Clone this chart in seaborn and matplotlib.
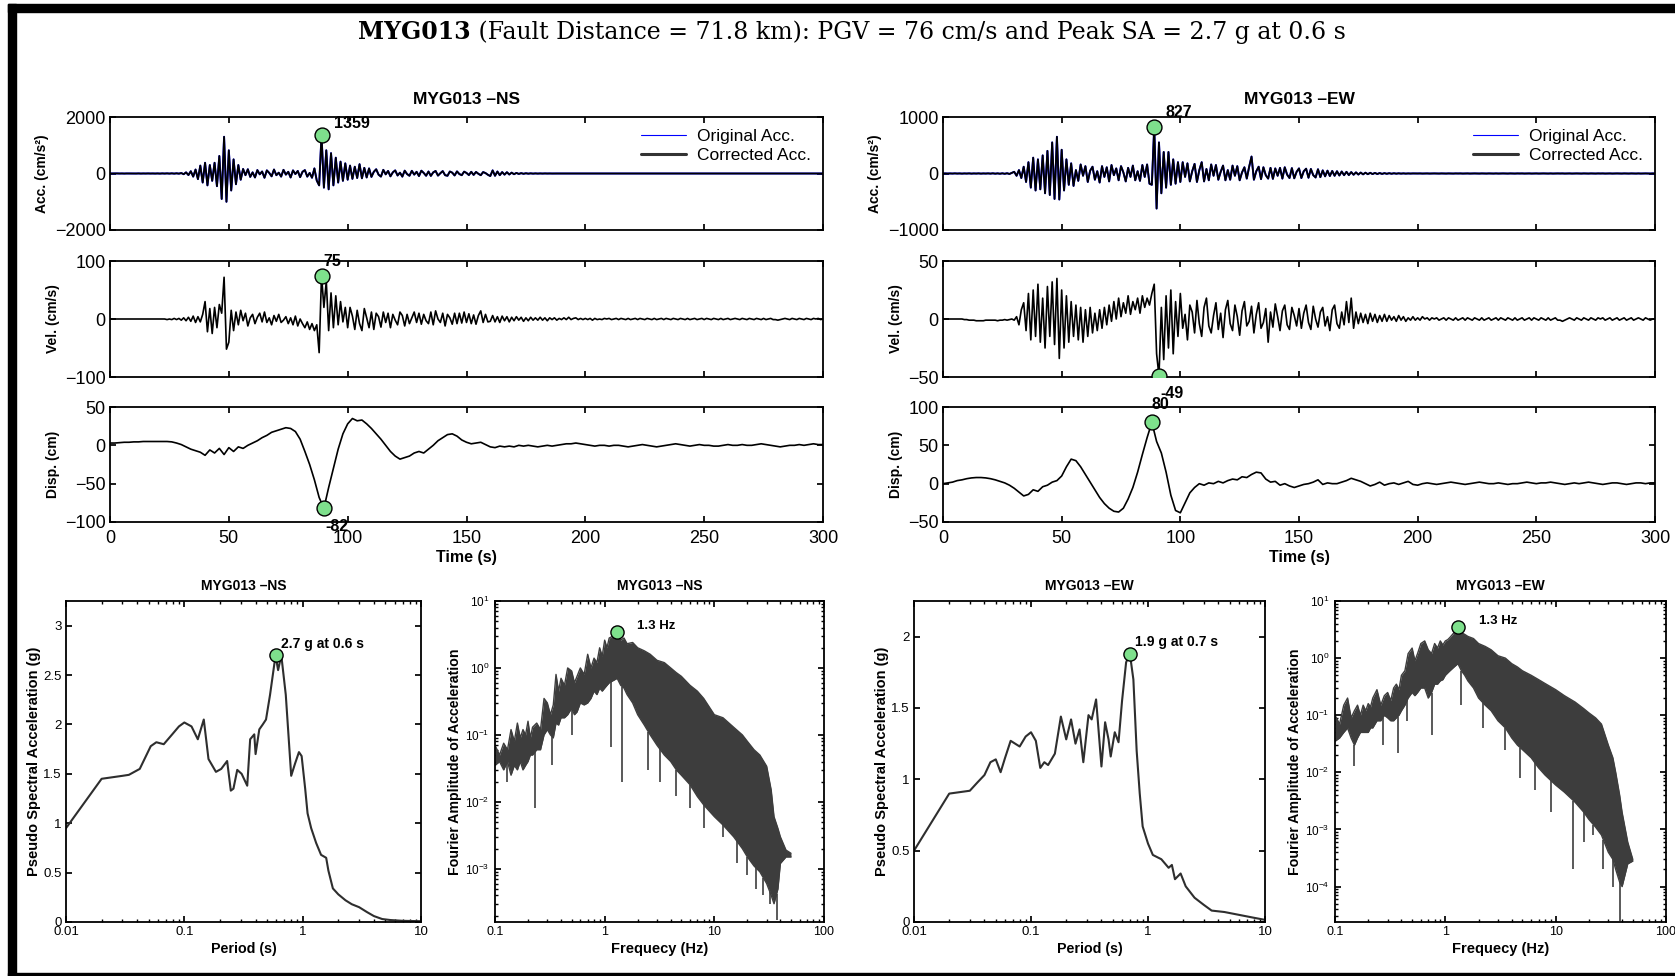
"""
plot.py - MYG013 strong-motion summary sheet (time histories, PSA, FAS).
"""

import numpy as np
import matplotlib
matplotlib.use("Agg")
import matplotlib.pyplot as plt
from matplotlib.patches import Rectangle
from matplotlib.lines import Line2D
import seaborn as sns

# ---------------------------------------------------------------------
#  Data
# ---------------------------------------------------------------------
DT = 1.0        # s, sample step of the acc / vel traces
DT_DISP = 2.0   # s, sample step of the disp traces

acc_ns = [
    0, 1, -1, 2, -1, 1, -2, 1, 0, -1,
    1, -1, 2, -2, 1, -1, 2, -1, 1, -2,
    2, -3, 3, -2, 4, -3, 5, -4, 6, -5,
    15, -25, 40, -55, 80, -110, 140, -200, 280, -320,
    380, -420, 300, -260, 380, -450, 620, -900, 1300, -1000,
    820, -600, 500, -380, 300, -220, 160, -60, 150, -120,
    40, -140, 120, -30, 70, -150, 110, 20, -100, 140,
    -60, 30, -110, 130, -40, 60, -140, 110, -20, 90,
    -130, 60, 120, -110, 20, -150, 180, -250, -420, 1359,
    -500, 820, -560, 720, -420, 560, -320, 420, -260, 360,
    -220, 280, -190, 240, -160, 330, -170, 200, -140, 180,
    -120, 60, 150, -40, -110, 130, -30, 90, -100, 40,
    110, -70, 30, -110, 100, -20, -80, 95, -40, 60,
    -90, 100, 20, -80, 70, -85, 40, 90, -75, 10,
    85, -60, -80, 70, 30, -70, 75, -20, -60, 65,
    20, -55, 60, -50, 55, -10, -60, 50, 15, -45,
    -90, 110, -80, 70, -60, 50, -40, 45, -35, 30,
    -25, 20, -15, 12, -10, 8, -6, 5, -4, 3,
    -3, 2, -2, 2, -1, 1, -1, 1, 0, 0,
    1, -1, 0, 1, -1, 0, 1, 0, -1, 1,
    0, -1, 1, 0, -1, 1, 0, 1, -1, 0,
    1, -1, 0, 1, 0, -1, 1, 0, -1, 1,
    0, 1, -1, 0, 1, -1, 0, 1, 0, -1,
    1, 0, -1, 1, 0, -1, 1, 0, 1, -1,
    0, 1, -1, 0, 1, 0, -1, 1, 0, -1,
    1, 0, -1, 1, -1, 0, 1, 0, -1, 1,
    0, -1, 1, 0, 1, -1, 0, 1, -1, 0,
    1, -1, 0, 1, 0, -1, 1, -1, 0, 1,
    0, 1, -1, 0, 1, -1, 0, 1, 0, -1,
    1, 0, 0, 1, -1, 0, 1, 0, -1, 1,
    0,
]

vel_ns = [
    0, 0, 0, 0, 0, 0, 0, 0, 0, 0,
    0, 0, 0, 0, 0, 0, 0, 0, 0, 0,
    0, 0, 0, 0, -1, 0, -1, 1, -1, 1,
    -2, 2, -3, 3, -4, 5, -6, 4, -5, 8,
    30, -22, 18, -25, 20, -15, 25, 10, 72, -52,
    -40, 15, -20, 12, -10, 15, -3, 10, -12, 2,
    8, -8, 3, 10, -5, 12, -6, 2, -10, 6,
    -4, 8, -6, -2, 4, -8, 2, -10, 5, -12,
    0, -8, -15, -5, -18, -8, -20, -10, -58, 75,
    20, 65, -20, 45, -15, 40, -10, 30, -5, 20,
    -15, 20, 5, -18, 15, -8, -20, 18, 2, -15,
    12, -18, 10, 4, -14, 12, -6, 10, -15, 8,
    -2, -10, 12, 6, -12, 8, -8, 2, 12, -6,
    10, -9, 8, -3, -8, 12, -10, 14, 0, -6,
    10, -12, 8, 2, -9, 10, -8, 10, -7, 12,
    -6, 9, -8, 7, -9, 6, 14, -6, 8, -5,
    -4, 6, -5, 4, -6, 5, -3, 4, -5, 3,
    -3, 4, -2, 3, -4, 2, -3, 3, -2, 2,
    -2, 3, -2, 2, -3, 2, -1, 2, -2, 1,
    -1, 2, -1, 3, -1, 1, 2, -1, 1, -1,
    1, -1, 1, -2, 1, -1, 0, -1, 1, 0,
    1, -1, 0, 1, -1, 1, 0, -1, 1, -1,
    0, 1, -1, 1, 0, -1, 1, 0, -1, 1,
    -1, 0, 1, -1, 1, 0, -1, 1, 0, -1,
    1, 0, -1, 1, -1, 0, 1, -1, 0, 1,
    -1, 1, 0, -1, 1, 0, -1, 1, -1, 0,
    1, -1, 0, 1, 0, -1, 1, 0, -1, 1,
    0, -1, 1, 0, -1, 1, -1, 0, 1, -1,
    -1, -2, -1, 0, 1, 0, -1, 1, 0, -1,
    1, 0, -1, 1, 0, -1, 1, 0, 1, -1,
    0,
]

disp_ns = [
    3, 3, 3.5, 4, 4, 4.5, 4.5, 5, 5, 5,
    5, 5, 5, 4.5, 3, 1, -2, -5, -7, -9,
    -13, -6, -10, -4, -12, -3, -8, -2, -4, 0,
    3, 6, 10, 13, 17, 19, 21, 23, 22, 18,
    8, -8, -25, -45, -68, -82, -55, -30, -5, 15,
    28, 35, 32, 33, 28, 22, 15, 8, 0, -8,
    -14, -18, -16, -14, -10, -8, -10, -5, 0, 6,
    10, 14, 15, 12, 7, 4, 2, 3, 4, 1,
    -2, -3, -1, -2, -1, -2, 0, -1, 0, -1,
    -2, -1, 0, -1, 0, 1, 2, 2, 3, 2,
    1, 0, -1, 0, 0, -1, 0, 0, -1, -2,
    -1, 0, 1, 0, -1, -2, -1, 0, 1, 2,
    1, 0, -1, 0, 1, 0, 0, -1, -1, 0,
    1, 0, 0, 1, 0, 0, 1, 2, 1, 0,
    -1, -2, -1, 0, 0, 1, 0, 1, 2, 1,
    1,
]

acc_ew = [
    0, 1, -1, 1, -1, 2, -1, 1, -2, 1,
    -1, 2, -2, 1, -1, 2, -2, 1, -1, 2,
    -2, 3, -3, 2, -4, 3, -5, 4, -8, 10,
    30, -40, 60, -80, 120, -150, 200, -250, 280, -300,
    250, -280, 320, -350, 400, -380, 550, -450, 650, -460,
    420, -300, 250, -200, 180, -220, 60, -130, 160, -40,
    130, -150, 50, 120, -110, 40, -160, 130, -60, 110,
    -140, 150, -30, 90, -120, 130, 20, -140, 100, -60,
    140, -120, 40, -130, 150, -60, 160, -180, -200, 827,
    -620, 550, -350, 380, -250, 380, -200, 250, -180, 200,
    -150, 200, -60, 180, -140, 40, 170, -150, 60, 200,
    -140, 80, -120, 160, -40, 150, -110, 30, 140, -120,
    60, -110, 140, -40, 130, -120, 20, 110, -90, 120,
    300, -110, 40, 120, -100, 110, -30, -90, 100, -95,
    90, -40, 100, -90, 110, -20, -80, 95, -85, 30,
    90, -80, 40, 85, -75, 80, -30, -70, 75, -65,
    55, -50, 50, -45, 45, -40, 40, -35, 35, -30,
    30, -28, 25, -22, 20, -18, 16, -15, 14, -12,
    12, -10, 10, -9, 8, -7, 6, -5, 5, -4,
    4, -3, 3, -2, 2, -2, 1, -1, 1, 0,
    0, 1, -1, 0, 1, -1, 0, 1, 0, -1,
    1, 0, -1, 1, 0, -1, 1, 0, 1, -1,
    0, 1, -1, 0, 1, 0, -1, 1, 0, -1,
    1, 0, -1, 1, -1, 0, 1, 0, -1, 1,
    0, -1, 1, 0, 1, -1, 0, 1, -1, 0,
    1, -1, 0, 1, 0, -1, 1, -1, 0, 1,
    0, 1, -1, 0, 1, -1, 0, 1, 0, -1,
    1, 0, -1, 1, 0, -1, 1, 0, 1, -1,
    0, 1, -1, 0, 1, 0, -1, 1, 0, -1,
    1, 0, -1, 1, -1, 0, 1, 0, -1, 1,
    0,
]

vel_ew = [
    0, 0, 0, 0, 0, 0, 0, 0, 0, -0.5,
    -0.5, -1, -1, -1, -1.5, -1.5, -1.5, -1.5, -1, -1,
    -1, -1, -1, -1.5, -1, -1, -0.5, -1, -0.5, 0,
    -1, 2, -5, 8, 14, -10, 22, -18, 25, -15,
    30, -20, 18, -25, 28, -15, 32, -22, 35, -34,
    25, -25, 20, -20, 15, -15, 12, -18, 10, -20,
    8, -15, 10, -12, 5, -10, 8, -8, 10, -5,
    12, -2, 15, 0, 18, 2, 14, 5, 20, 4,
    15, 8, 18, 5, 20, 10, 18, 12, 22, 30,
    -30, -49, 10, -35, 20, -25, 25, -30, 15, -15,
    22, -8, 4, -18, 12, 6, -12, 16, -4, -15,
    10, 18, -6, -12, 3, 14, -9, 5, -16, 8,
    16, -4, -10, 12, 2, -14, 7, 15, -6, -2,
    11, -12, 4, 14, -8, -3, 9, -20, 6, -7,
    13, 2, -10, 7, 12, -5, -9, 10, 3, -6,
    9, -8, 5, 12, -3, -9, 11, 0, -7, 6,
    10, -6, 2, -10, 8, 12, -4, -8, 6, -5,
    15, -3, 18, -8, 6, -4, 5, -3, 4, -4,
    5, -2, 4, -3, 3, -2, 4, -2, 3, -1,
    2, -2, 3, -1, 2, -2, 1, -1, 2, -1,
    1, -1, 2, 0, 1, -1, 1, 0, 1, -1,
    0, 1, -1, 1, 0, -1, 1, -1, 0, 1,
    -1, 1, 0, -1, 1, 0, -1, 1, -1, 0,
    1, -1, 0, 1, -1, 1, 0, -1, 1, 0,
    -1, 1, -1, 0, 1, -1, 0, 1, -1, 1,
    0, -1, 1, 0, -1, 1, -1, 0, 1, -1,
    -1, -2, -1, 0, 1, 0, -1, 1, 0, -1,
    1, 0, -1, 1, 0, -1, 1, 0, 1, -1,
    0, 1, -1, 0, 1, -1, 0, 1, -1, 0,
    1, -1, 0, 1, 0, -1, 1, 0, -1, 0,
    0,
]

disp_ew = [
    0, 1, 2, 4, 5, 6.5, 7.5, 8, 8, 7.5,
    6.5, 5, 3, 1, -2, -6, -11, -16, -14, -8,
    -10, -4, -2, 2, 4, 10, 22, 32, 30, 22,
    12, 2, -8, -18, -26, -32, -36, -37, -32, -20,
    -5, 15, 38, 60, 80, 55, 40, 15, -15, -35,
    -38, -25, -12, -5, 0, -2, 1, 0, 3, 1,
    4, 6, 5, 9, 8, 12, 15, 14, 6, 2,
    3, -2, 0, -3, -5, -3, -1, 0, 2, 5,
    -1, 1, 0, 0, 2, 4, 7, 5, 3, 0,
    -3, -1, 2, -2, 0, 1, -1, 1, 3, -1,
    -2, 0, 1, 0, -1, 0, 1, 2, 1, 0,
    -1, 0, 1, 2, 1, 0, 0, 1, 0, -1,
    0, 0, 1, 2, 1, 0, 1, 1, 2, 1,
    0, -1, 0, 1, 0, 1, 2, 1, 0, -1,
    0, 1, 1, 0, -1, 0, 1, 1, 0, 1,
    1,
]

# pseudo spectral acceleration (g) vs period (s)
sa_ns_period = [0.01, 0.02, 0.03, 0.034, 0.042, 0.052, 0.058, 0.067, 0.079, 0.09,
                0.1, 0.115, 0.13, 0.146, 0.16, 0.185, 0.205, 0.23, 0.247, 0.26,
                0.28, 0.305, 0.34, 0.36, 0.39, 0.40, 0.43, 0.46, 0.49, 0.53,
                0.59, 0.62, 0.66, 0.72, 0.8, 0.86, 0.93, 0.98, 1.05, 1.1,
                1.18, 1.3, 1.43, 1.58, 1.65, 1.8, 2.0, 2.3, 2.6, 3.0,
                3.5, 4.0, 4.7, 5.5, 7.0, 10.0]
sa_ns_value = [0.95, 1.45, 1.48, 1.49, 1.55, 1.78, 1.82, 1.80, 1.90, 1.98,
               2.02, 1.98, 1.85, 2.05, 1.65, 1.52, 1.55, 1.63, 1.33, 1.35,
               1.54, 1.50, 1.38, 1.85, 1.90, 1.70, 1.95, 2.00, 2.05, 2.30,
               2.70, 2.55, 2.70, 2.30, 1.48, 1.60, 1.72, 1.68, 1.35, 1.10,
               0.95, 0.80, 0.68, 0.65, 0.52, 0.34, 0.28, 0.22, 0.18, 0.15,
               0.10, 0.06, 0.03, 0.02, 0.012, 0.008]

sa_ew_period = [0.01, 0.02, 0.03, 0.035, 0.04, 0.045, 0.05, 0.055, 0.06, 0.067,
                0.08, 0.09, 0.1, 0.11, 0.12, 0.13, 0.14, 0.16, 0.18, 0.2,
                0.22, 0.24, 0.26, 0.28, 0.31, 0.33, 0.36, 0.38, 0.40, 0.43,
                0.46, 0.48, 0.52, 0.56, 0.6, 0.65, 0.7, 0.75, 0.8, 0.85,
                0.9, 1.0, 1.1, 1.3, 1.5, 1.6, 1.7, 1.9, 2.1, 2.5,
                3.0, 3.5, 4.5, 6.0, 8.0, 10.0]
sa_ew_value = [0.50, 0.90, 0.92, 0.98, 1.03, 1.12, 1.14, 1.05, 1.15, 1.27,
               1.23, 1.30, 1.33, 1.27, 1.08, 1.12, 1.10, 1.18, 1.44, 1.28,
               1.42, 1.25, 1.35, 1.12, 1.45, 1.42, 1.56, 1.32, 1.09, 1.40,
               1.28, 1.16, 1.33, 1.26, 1.55, 1.82, 1.88, 1.70, 1.20, 0.90,
               0.67, 0.55, 0.47, 0.44, 0.38, 0.40, 0.30, 0.34, 0.25, 0.17,
               0.12, 0.08, 0.07, 0.05, 0.03, 0.015]

# Fourier amplitude of acceleration: band envelope and isolated dips
fas_freq = [0.10, 0.11, 0.12, 0.13, 0.14, 0.15, 0.16, 0.17, 0.18, 0.19,
            0.20, 0.21, 0.22, 0.24, 0.26, 0.28, 0.30, 0.32, 0.34, 0.36,
            0.38, 0.40, 0.43, 0.46, 0.50, 0.53, 0.56, 0.60, 0.65, 0.70,
            0.75, 0.80, 0.85, 0.90, 0.95, 1.00, 1.05, 1.10, 1.20, 1.30,
            1.40, 1.50, 1.60, 1.80, 2.00, 2.30, 2.60, 3.00, 3.50, 4.00,
            4.50, 5.00, 6.00, 7.00, 8.00, 10.0, 12.0, 15.0, 18.0, 20.0,
            23.0, 26.0, 30.0, 33.0, 35.0, 38.0, 40.0, 45.0, 50.0]
fas_ns_upper = [0.07, 0.05, 0.075, 0.06, 0.12, 0.08, 0.15, 0.09, 0.12, 0.10,
                0.16, 0.09, 0.13, 0.15, 0.12, 0.35, 0.30, 0.20, 0.28, 0.80,
                0.45, 0.70, 0.55, 1.00, 0.90, 0.60, 0.75, 1.00, 0.80, 1.60,
                1.00, 1.40, 1.20, 2.00, 1.50, 2.60, 2.00, 2.80, 3.00, 3.50,
                2.60, 2.80, 2.30, 2.40, 2.00, 1.80, 1.60, 1.30, 1.20, 1.00,
                0.85, 0.75, 0.55, 0.45, 0.35, 0.20, 0.18, 0.13, 0.10, 0.08,
                0.06, 0.05, 0.034, 0.015, 0.006, 0.004, 0.003, 0.0019, 0.0017]
fas_ns_lower = [0.035, 0.04, 0.03, 0.04, 0.025, 0.035, 0.03, 0.04, 0.03, 0.035,
                0.04, 0.05, 0.05, 0.06, 0.06, 0.10, 0.12, 0.10, 0.09, 0.15,
                0.14, 0.18, 0.18, 0.20, 0.25, 0.20, 0.22, 0.30, 0.28, 0.30,
                0.35, 0.45, 0.40, 0.50, 0.45, 0.50, 0.55, 0.60, 0.65, 0.70,
                0.55, 0.50, 0.40, 0.30, 0.20, 0.14, 0.10, 0.07, 0.05, 0.04,
                0.03, 0.025, 0.018, 0.012, 0.009, 0.006, 0.0045, 0.003, 0.002, 0.0015,
                0.0011, 0.0009, 0.0006, 0.0004, 0.0003, 0.0005, 0.0012, 0.0015, 0.0015]
fas_ns_dip_freq = [0.13, 0.23, 0.33, 0.50, 1.15, 1.45, 2.5, 3.2, 4.5, 6.0,
                   8.0, 12.0, 16.0, 20.0, 24.0, 28.0, 32.0, 37.0]
fas_ns_dip_value = [0.02, 0.008, 0.035, 0.1, 0.065, 0.02, 0.03, 0.02, 0.012, 0.008,
                    0.004, 0.003, 0.0012, 0.0008, 0.0005, 0.0004, 0.0003, 0.00017]

fas_ew_upper = [0.10, 0.07, 0.15, 0.20, 0.09, 0.12, 0.15, 0.10, 0.15, 0.12,
                0.16, 0.14, 0.20, 0.28, 0.15, 0.22, 0.25, 0.18, 0.30, 0.35,
                0.28, 0.50, 0.60, 1.20, 1.50, 0.90, 1.20, 1.80, 2.00, 1.40,
                1.20, 1.80, 1.50, 2.00, 1.70, 2.00, 2.10, 2.30, 2.80, 3.50,
                2.80, 2.60, 2.40, 2.20, 1.80, 1.60, 1.40, 1.10, 1.00, 0.80,
                0.70, 0.60, 0.50, 0.42, 0.36, 0.28, 0.22, 0.17, 0.13, 0.11,
                0.09, 0.07, 0.03, 0.018, 0.01, 0.004, 0.002, 0.0006, 0.0003]
fas_ew_lower = [0.035, 0.04, 0.05, 0.06, 0.04, 0.03, 0.04, 0.05, 0.05, 0.05,
                0.05, 0.06, 0.06, 0.08, 0.08, 0.10, 0.09, 0.08, 0.08, 0.09,
                0.10, 0.12, 0.15, 0.20, 0.25, 0.22, 0.25, 0.30, 0.30, 0.20,
                0.25, 0.35, 0.35, 0.40, 0.42, 0.50, 0.55, 0.60, 0.70, 0.80,
                0.60, 0.50, 0.40, 0.30, 0.20, 0.15, 0.12, 0.08, 0.06, 0.04,
                0.03, 0.025, 0.018, 0.012, 0.009, 0.006, 0.0045, 0.003, 0.002, 0.0015,
                0.0011, 0.0008, 0.0004, 0.0003, 0.0002, 0.00012, 0.0001, 0.00025, 0.00028]
fas_ew_dip_freq = [0.15, 0.27, 0.37, 0.45, 0.75, 1.4, 2.2, 3.5, 4.8, 6.5,
                   9.0, 14.5, 18.0, 22.0, 27.0, 33.0, 38.0]
fas_ew_dip_value = [0.013, 0.03, 0.022, 0.08, 0.045, 0.15, 0.06, 0.025, 0.008, 0.005,
                    0.002, 0.0002, 0.0006, 0.0008, 0.0002, 0.0001, 2.5e-5]

MARKER_GREEN = "#7ee08c"
FAS_GREY = "#3d3d3d"

# ---------------------------------------------------------------------
#  Style
# ---------------------------------------------------------------------
sns.set_theme(style="ticks")
plt.rcParams["font.family"] = ["Liberation Sans", "DejaVu Sans"]
plt.rcParams.update({
    "xtick.direction": "in", "ytick.direction": "in",
    "xtick.top": True, "ytick.right": True,
    "axes.linewidth": 1.3, "axes.edgecolor": "black",
    "xtick.major.size": 4, "ytick.major.size": 4,
    "xtick.minor.size": 2, "ytick.minor.size": 2,
    "xtick.color": "black", "ytick.color": "black",
    "axes.labelcolor": "black", "text.color": "black",
})

W, H = 1675, 976
fig = plt.figure(figsize=(W / 100, H / 100), dpi=100)


def box(x0, y0, x1, y1):
    """Axes rectangle from pixel edges (top-left origin)."""
    return [x0 / W, 1 - y1 / H, (x1 - x0) / W, (y1 - y0) / H]


def peak_marker(ax, x, y, label, offset, size=10, s=115):
    sns.scatterplot(x=[x], y=[y], ax=ax, s=s, color=MARKER_GREEN,
                    edgecolor="black", linewidth=1, zorder=5, legend=False)
    ax.annotate(label, (x, y), xytext=offset, textcoords="offset points",
                ha="left", va="center", fontsize=size, fontweight="bold",
                annotation_clip=False, zorder=6)


def time_panel(ax, values, dt, ylim, yticks, ylabel, offset, lw, original=False):
    t = np.arange(len(values)) * dt
    v = np.asarray(values, dtype=float)
    if original:
        sns.lineplot(x=t, y=v, ax=ax, color="blue", lw=lw + 0.1, sort=False, estimator=None)
    sns.lineplot(x=t, y=v, ax=ax, color="black", lw=lw, sort=False, estimator=None)
    i = int(np.argmax(np.abs(v)))
    peak_marker(ax, t[i], v[i], f"{v[i]:.0f}", offset, size=11.5)
    ax.set_xlim(0, 300)
    ax.set_ylim(*ylim)
    ax.set_yticks(yticks)
    ax.set_xticks(range(0, 301, 50))
    ax.set_ylabel(ylabel, fontsize=10, fontweight="bold", labelpad=4)
    ax.tick_params(labelsize=13, pad=3)
    ax.tick_params(axis="x", pad=6)


def acc_legend(ax):
    handles = [Line2D([], [], color="blue", lw=0.8),
               Line2D([], [], color="#333333", lw=2.2)]
    ax.legend(handles, ["Original Acc.", "Corrected Acc."], loc="upper right",
              fontsize=12.5, frameon=False, handlelength=2.6, borderaxespad=0.5,
              borderpad=0.2, labelspacing=0.2, handletextpad=0.6)


# ---------------------------------------------------------------------
#  Time histories
# ---------------------------------------------------------------------
rows = [(117, 230), (261, 377), (407, 522)]
cols = {"NS": (110, 823), "EW": (943, 1655)}
series = {
    "NS": [(acc_ns, DT, (-2000, 2000), [-2000, 0, 2000], "Acc. (cm/s²)", (9, 8), 1.3),
           (vel_ns, DT, (-100, 100), [-100, 0, 100], "Vel. (cm/s)", (1, 10), 1.2),
           (disp_ns, DT_DISP, (-100, 50), [-100, -50, 0, 50], "Disp. (cm)", (1, -13), 1.2)],
    "EW": [(acc_ew, DT, (-1000, 1000), [-1000, 0, 1000], "Acc. (cm/s²)", (8, 10), 1.3),
           (vel_ew, DT, (-50, 50), [-50, 0, 50], "Vel. (cm/s)", (1, -13), 1.2),
           (disp_ew, DT_DISP, (-50, 100), [-50, 0, 50, 100], "Disp. (cm)", (0, 13), 1.2)],
}

for comp, (x0, x1) in cols.items():
    for r, ((y0, y1), spec) in enumerate(zip(rows, series[comp])):
        ax = fig.add_axes(box(x0, y0, x1, y1))
        vals, dt, ylim, yt, ylab, off, lw = spec
        time_panel(ax, vals, dt, ylim, yt, ylab, off, lw, original=(r == 0))
        if r == 0:
            acc_legend(ax)
            ax.set_title(f"MYG013 \u2013{comp}", fontsize=12.5, fontweight="bold", pad=9)
        if r < 2:
            ax.set_xticklabels([])
            ax.set_xlabel("")
        else:
            ax.set_xlabel("Time (s)", fontsize=11.5, fontweight="bold", labelpad=2)

# ---------------------------------------------------------------------
#  Response spectra and Fourier spectra
# ---------------------------------------------------------------------
BOT = (601, 922)


def sa_panel(ax, period, value, comp, ymax, yticks, label):
    ax.set_xscale("log")
    sns.lineplot(x=period, y=value, ax=ax, color="#2e2e2e", lw=1.5, sort=False, estimator=None)
    i = int(np.argmax(value))
    peak_marker(ax, period[i], value[i], label, (4, 8.5), size=10, s=90)
    ax.set_xlim(0.01, 10)
    ax.set_ylim(0, ymax)
    ax.set_yticks(yticks)
    ax.set_yticklabels([f"{v:g}" for v in yticks])
    ax.set_xticks([0.01, 0.1, 1, 10])
    ax.set_xticklabels(["0.01", "0.1", "1", "10"])
    ax.tick_params(labelsize=9.5, pad=3)
    ax.set_xlabel("Period (s)", fontsize=10.3, fontweight="bold", labelpad=3)
    ax.set_ylabel("Pseudo Spectral Acceleration (g)", fontsize=10.5, fontweight="bold", labelpad=2)
    ax.set_title(f"MYG013 \u2013{comp}", fontsize=10, fontweight="bold", pad=8)


def fas_panel(ax, upper, lower, dip_f, dip_v, comp, ymin, label_off):
    ax.set_xscale("log")
    ax.set_yscale("log")
    ax.fill_between(fas_freq, lower, upper, color=FAS_GREY, lw=0)
    sns.lineplot(x=fas_freq, y=upper, ax=ax, color=FAS_GREY, lw=1.0, sort=False, estimator=None)
    sns.lineplot(x=fas_freq, y=lower, ax=ax, color=FAS_GREY, lw=1.0, sort=False, estimator=None)
    low_at_dip = np.interp(np.log10(dip_f), np.log10(fas_freq), np.log10(lower))
    ax.vlines(dip_f, dip_v, 10 ** low_at_dip, color=FAS_GREY, lw=1.2)
    i = int(np.argmax(upper))
    peak_marker(ax, fas_freq[i], upper[i], f"{fas_freq[i]:.1f} Hz", label_off, size=9.5, s=90)
    ax.set_xlim(0.1, 100)
    ax.set_ylim(ymin, 10)
    ax.set_xticks([0.1, 1, 10, 100])
    ax.set_xticklabels(["0.1", "1", "10", "100"])
    ax.tick_params(labelsize=8.5, pad=4)
    ax.tick_params(axis="x", labelsize=9, pad=3)
    ax.set_xlabel("Frequecy (Hz)", fontsize=10.5, fontweight="bold", labelpad=3)
    ax.set_ylabel("Fourier Amplitude of Acceleration", fontsize=10.2, fontweight="bold", labelpad=2)
    ax.set_title(f"MYG013 \u2013{comp}", fontsize=10, fontweight="bold", pad=8)


ax = fig.add_axes(box(66, BOT[0], 421, BOT[1]))
sa_panel(ax, sa_ns_period, sa_ns_value, "NS", 3.25, [0, 0.5, 1, 1.5, 2, 2.5, 3], "2.7 g at 0.6 s")
ax = fig.add_axes(box(495, BOT[0], 824, BOT[1]))
fas_panel(ax, fas_ns_upper, fas_ns_lower, fas_ns_dip_freq, fas_ns_dip_value, "NS", 1.6e-4, (14, 4))
ax = fig.add_axes(box(914, BOT[0], 1265, BOT[1]))
sa_panel(ax, sa_ew_period, sa_ew_value, "EW", 2.25, [0, 0.5, 1, 1.5, 2], "1.9 g at 0.7 s")
ax = fig.add_axes(box(1335, BOT[0], 1666, BOT[1]))
fas_panel(ax, fas_ew_upper, fas_ew_lower, fas_ew_dip_freq, fas_ew_dip_value, "EW", 2.4e-5, (15, 4))

# ---------------------------------------------------------------------
#  Sheet title and frame
# ---------------------------------------------------------------------
renderer = fig.canvas.get_renderer()
kw = dict(fontsize=17, family="DejaVu Serif", va="center")
t1 = fig.text(0, 1 - 32 / H, "MYG013", fontweight="bold", **kw)
t2 = fig.text(0, 1 - 32 / H, " (Fault Distance = 71.8 km): PGV = 76 cm/s and Peak SA = 2.7 g at 0.6 s", **kw)
w1 = t1.get_window_extent(renderer).width
w2 = t2.get_window_extent(renderer).width
x0 = 852 - (w1 + w2) / 2
t1.set_x(x0 / W)
t2.set_x((x0 + w1) / W)

for x, y, w, h in [(8, 4, W - 8, 8), (8, 4, 8, H - 4), (8, H - 3, W - 8, 3)]:
    fig.patches.append(Rectangle((x / W, 1 - (y + h) / H), w / W, h / H,
                                 transform=fig.transFigure, color="black", zorder=10))

fig.savefig("out.png", dpi=100)
